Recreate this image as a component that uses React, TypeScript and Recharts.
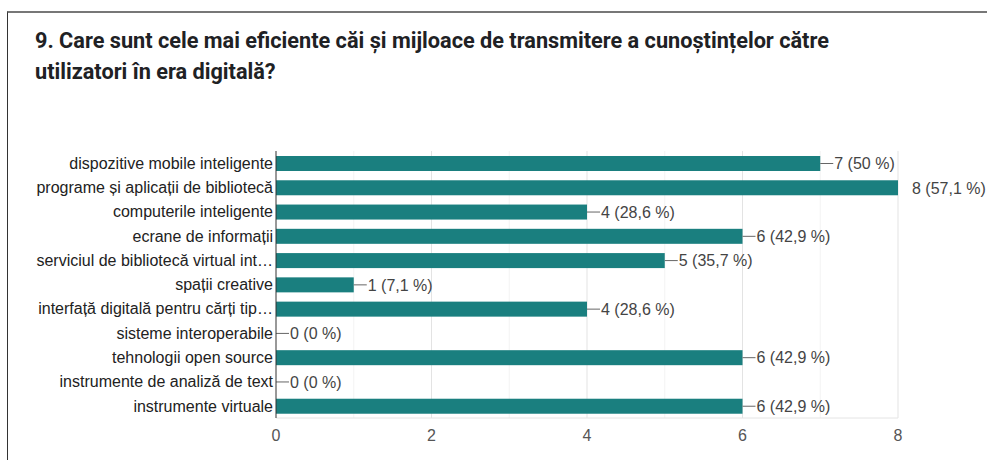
import React from "react";
import {
  BarChart,
  Bar,
  XAxis,
  YAxis,
  CartesianGrid,
} from "recharts";

// categories as shown (long ones are truncated in the original)
const categories = [
  "dispozitive mobile inteligente",
  "programe și aplicații de bibliotecă",
  "computerile inteligente",
  "ecrane de informații",
  "serviciul de bibliotecă virtual int…",
  "spații creative",
  "interfață digitală pentru cărți tip…",
  "sisteme interoperabile",
  "tehnologii open source",
  "instrumente de analiză de text",
  "instrumente virtuale",
];
const counts = [7, 8, 4, 6, 5, 1, 4, 0, 6, 0, 6];
const percents = ["50 %", "57,1 %", "28,6 %", "42,9 %", "35,7 %", "7,1 %", "28,6 %", "0 %", "42,9 %", "0 %", "42,9 %"];
const majorTicks = [0, 2, 4, 6, 8];
const minorTicks = [1, 3, 5, 7];
const xMax = 8;

const title1 = "9. Care sunt cele mai eficiente căi și mijloace de transmitere a cunoștințelor către";
const title2 = "utilizatori în era digitală?";

const data = categories.map((name, i) => ({
  name,
  value: counts[i],
  label: `${counts[i]} (${percents[i]})`,
}));

const FONT = "'Liberation Sans', Arial, sans-serif";
const BAR_COLOR = "#1a7f7f";

// bar + connector line + label (shape is called for 0 values too, LabelList was not)
const BarWithLabel = (props: any) => {
  const { x, y, width, height, payload } = props;
  const w = Math.max(0, width || 0);
  const endX = x + w;
  const cy = y + height / 2;
  const atEdge = payload.value >= xMax;
  return (
    <g>
      {w > 0 && <rect x={x} y={y} width={w} height={height} fill={BAR_COLOR} />}
      {!atEdge && <line x1={endX} y1={cy} x2={endX + 13} y2={cy} stroke="#666" strokeWidth={1} />}
      <text x={endX + 14} y={cy} dy="0.36em" fontSize={16} fontFamily={FONT} fill="#444">
        {payload.label}
      </text>
    </g>
  );
};

export default function App() {
  return (
    <div style={{ position: "absolute", left: 0, top: 0, width: 987, height: 460, background: "#fff", overflow: "hidden" }}>
      <div style={{ position: "absolute", left: 7, top: 11, right: 0, bottom: 0, borderTop: "2px solid #777", borderLeft: "1.5px solid #333" }} />
      <div
        style={{
          position: "absolute",
          left: 35,
          top: 25,
          fontFamily: "Roboto, 'Noto Sans', sans-serif",
          fontWeight: 700,
          fontSize: 21.7,
          lineHeight: "31px",
          color: "#202124",
          whiteSpace: "nowrap",
        }}
      >
        <div>{title1}</div>
        <div>{title2}</div>
      </div>
      <div style={{ position: "absolute", left: 0, top: 0 }}>
        <BarChart
          width={987}
          height={460}
          data={data}
          layout="vertical"
          margin={{ top: 151, right: 89, bottom: 12, left: 0 }}
          barCategoryGap={9}
        >
          <CartesianGrid horizontal={false} verticalValues={minorTicks} stroke="#f3f3f3" />
          <CartesianGrid horizontal={false} verticalValues={majorTicks.slice(1)} stroke="#e3e3e3" />
          <XAxis
            type="number"
            domain={[0, xMax]}
            ticks={majorTicks}
            tickLine={false}
            tickSize={0}
            tickMargin={12}
            axisLine={{ stroke: "#e4e4e4" }}
            tick={{ fontSize: 16, fill: "#555", fontFamily: FONT }}
            height={30}
          />
          <YAxis
            type="category"
            dataKey="name"
            width={276}
            tickLine={false}
            tickSize={0}
            tickMargin={3}
            axisLine={{ stroke: "#333" }}
            tick={{ fontSize: 16, fill: "#222", fontFamily: FONT }}
            interval={0}
          />
          <Bar dataKey="value" fill={BAR_COLOR} barSize={15} isAnimationActive={false} shape={BarWithLabel} />
        </BarChart>
      </div>
    </div>
  );
}
